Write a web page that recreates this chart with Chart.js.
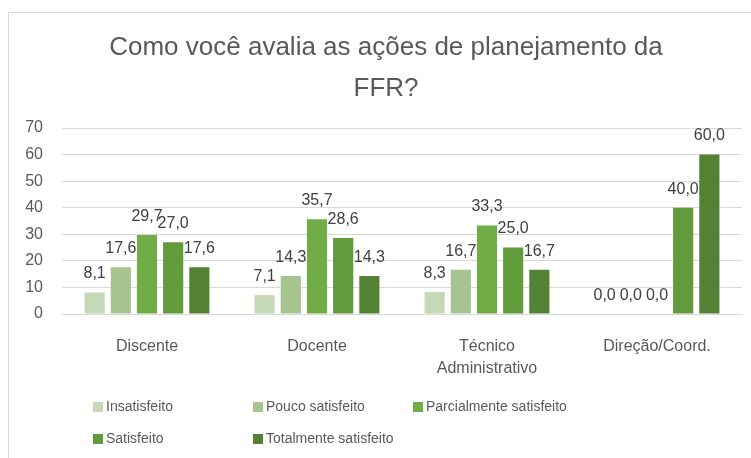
<!DOCTYPE html>
<html>
<head>
<meta charset="utf-8">
<script src="https://cdn.jsdelivr.net/npm/chart.js@4"></script>
<style>
  body { margin: 0; background: #fff; }
  #wrap { position: relative; width: 751px; height: 458px; overflow: hidden; }
  #frame { position: absolute; left: 8px; top: 12px; width: 800px; height: 500px; border: 1.5px solid #d9d9d9; }
  #chart { position: absolute; left: 0; top: 0; }
  #legend { position: absolute; left: 0; top: 0; font-family: "Liberation Sans", Arial, sans-serif; font-size: 14px; color: #595959; }
  .item { position: absolute; white-space: nowrap; line-height: 18px; }
  .box { display: inline-block; width: 10px; height: 10px; margin-right: 3px; vertical-align: -1px; }
</style>
</head>
<body>
<div id="wrap">
  <div id="frame"></div>
  <canvas id="chart" width="751" height="458"></canvas>
  <div id="legend"></div>
</div>
<script>
// Categorias e séries
const categorias = ["Discente", "Docente", ["Técnico", "Administrativo"], "Direção/Coord."];
const insatisfeito = [8.1, 7.1, 8.3, 0];
const poucoSatisfeito = [17.6, 14.3, 16.7, 0];
const parcialmenteSatisfeito = [29.7, 35.7, 33.3, 0];
const satisfeito = [27.0, 28.6, 25.0, 40.0];
const totalmenteSatisfeito = [17.6, 14.3, 16.7, 60.0];
const nomesSeries = ["Insatisfeito", "Pouco satisfeito", "Parcialmente satisfeito", "Satisfeito", "Totalmente satisfeito"];
const cores = ["#c5d9b9", "#a5c48f", "#70ad47", "#609b3c", "#548235"];
const yTicks = [0, 10, 20, 30, 40, 50, 60, 70];

const fonte = "'Liberation Sans', Arial, sans-serif";
const cinza = "#595959";

// Plugin para rótulos de dados (formato 0,0)
const rotulos = {
  id: "rotulos",
  afterLayout(chart) {
    // título um pouco deslocado para a direita, como no original
    chart.titleBlock.left = 30;
  },
  afterDatasetsDraw(chart) {
    const ctx = chart.ctx;
    ctx.save();
    ctx.font = "16px " + fonte;
    ctx.fillStyle = "#404040";
    ctx.textAlign = "center";
    ctx.textBaseline = "middle";
    chart.data.datasets.forEach((ds, i) => {
      chart.getDatasetMeta(i).data.forEach((bar, j) => {
        const txt = ds.data[j].toFixed(1).replace(".", ",");
        ctx.fillText(txt, bar.x, bar.y - 18.5);
      });
    });
    ctx.restore();
  },
};

const ctx = document.getElementById("chart").getContext("2d");
const chart = new Chart(ctx, {
  type: "bar",
  data: {
    labels: categorias,
    datasets: [insatisfeito, poucoSatisfeito, parcialmenteSatisfeito, satisfeito, totalmenteSatisfeito].map((d, i) => ({
      label: nomesSeries[i],
      data: d,
      backgroundColor: cores[i],
      borderWidth: 0,
      categoryPercentage: 0.77,
      barPercentage: 0.77,
    })),
  },
  options: {
    responsive: false,
    animation: false,
    layout: { padding: { left: 8, right: 9, top: 27, bottom: 64 } },
    plugins: {
      legend: { display: false },
      tooltip: { enabled: false },
      title: {
        display: true,
        text: ["Como você avalia as ações de planejamento da", "FFR?"],
        color: cinza,
        font: { family: fonte, size: 26, weight: "normal", lineHeight: 41 / 26 },
        padding: { top: 0, bottom: 19 },
      },
    },
    scales: {
      x: {
        grid: { display: false },
        border: { display: true, color: "#d9d9d9", width: 1 },
        ticks: { color: cinza, font: { family: fonte, size: 16, lineHeight: 22 / 16 }, padding: 14, maxRotation: 0 },
      },
      y: {
        min: 0,
        max: 70,
        afterBuildTicks(scale) {
          scale.ticks = yTicks.map((v) => ({ value: v }));
        },
        afterFit(scale) {
          scale.width = 54;
        },
        grid: { color: "#d9d9d9", lineWidth: 1, drawTicks: false },
        border: { display: false },
        ticks: { color: cinza, font: { family: fonte, size: 16 }, padding: 19 },
      },
    },
  },
  plugins: [rotulos],
});

// Legenda em HTML, gerada a partir dos datasets
const posLegenda = [[93, 397], [253, 397], [413, 397], [93, 429], [253, 429]];
const legenda = document.getElementById("legend");
chart.data.datasets.forEach((ds, i) => {
  const el = document.createElement("div");
  el.className = "item";
  el.style.left = posLegenda[i][0] + "px";
  el.style.top = posLegenda[i][1] + "px";
  el.innerHTML = '<span class="box" style="background:' + ds.backgroundColor + '"></span>' + ds.label;
  legenda.appendChild(el);
});
</script>
</body>
</html>
